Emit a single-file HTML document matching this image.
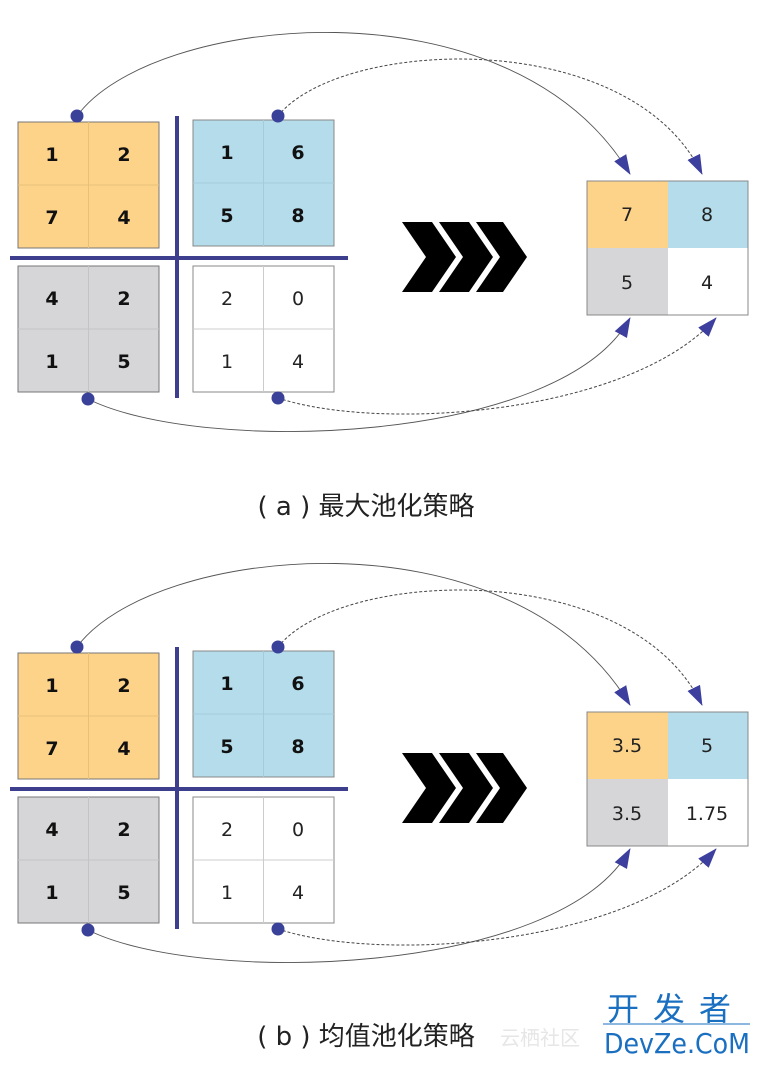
<!DOCTYPE html>
<html><head><meta charset="utf-8"><style>
body{margin:0;background:#fff;}
svg text{font-family:"DejaVu Sans","Liberation Sans","Noto Sans CJK SC",sans-serif;}
</style></head><body>
<svg width="759" height="1061" viewBox="0 0 759 1061" xmlns="http://www.w3.org/2000/svg">
<defs>
<marker id="ah" viewBox="0 0 20 14" refX="19" refY="7" markerWidth="20" markerHeight="14" markerUnits="userSpaceOnUse" orient="auto">
<path d="M0,0 L20,7 L0,14 Z" fill="#3d3f9e"/>
</marker>
<g id="panel">
  <path d="M77,116 C150,15 510,-25 630,174" fill="none" stroke="#555" stroke-width="0.9" marker-end="url(#ah)"/>
  <path d="M278,116 C340,38 630,25 702,174" fill="none" stroke="#444" stroke-width="1" stroke-dasharray="3,2" marker-end="url(#ah)"/>
  <path d="M88,399 C200,455 560,445 630,318" fill="none" stroke="#555" stroke-width="0.9" marker-end="url(#ah)"/>
  <path d="M278,398 C380,432 630,415 716,318" fill="none" stroke="#444" stroke-width="1" stroke-dasharray="3,2" marker-end="url(#ah)"/>
  <rect x="18" y="122" width="141" height="126" fill="#fdd389" stroke="#777" stroke-width="1"/>
  <line x1="88.5" y1="122" x2="88.5" y2="248" stroke="#e8c07a"/><line x1="18" y1="185" x2="159" y2="185" stroke="#e8c07a"/>
  <rect x="193" y="120" width="141" height="126" fill="#b4dcea" stroke="#888" stroke-width="1"/>
  <line x1="263.5" y1="120" x2="263.5" y2="246" stroke="#a4cbd9"/><line x1="193" y1="183" x2="334" y2="183" stroke="#a4cbd9"/>
  <rect x="18" y="266" width="141" height="126" fill="#d6d6d8" stroke="#777" stroke-width="1"/>
  <line x1="88.5" y1="266" x2="88.5" y2="392" stroke="#c4c4c6"/><line x1="18" y1="329" x2="159" y2="329" stroke="#c4c4c6"/>
  <rect x="193" y="266" width="141" height="126" fill="#fff" stroke="#888" stroke-width="1"/>
  <line x1="263.5" y1="266" x2="263.5" y2="392" stroke="#ccc"/><line x1="193" y1="329" x2="334" y2="329" stroke="#ccc"/>
  <line x1="10" y1="258" x2="348" y2="258" stroke="#3d3f8e" stroke-width="4"/>
  <line x1="177" y1="116" x2="177" y2="398" stroke="#3d3f8e" stroke-width="4"/>
  <g font-weight="bold" font-size="19" fill="#111" text-anchor="middle">
    <text x="52" y="161">1</text><text x="124" y="161">2</text>
    <text x="52" y="224">7</text><text x="124" y="224">4</text>
    <text x="227" y="159">1</text><text x="298" y="159">6</text>
    <text x="227" y="222">5</text><text x="298" y="222">8</text>
    <text x="52" y="305">4</text><text x="124" y="305">2</text>
    <text x="52" y="368">1</text><text x="124" y="368">5</text>
  </g>
  <g font-size="19" fill="#222" text-anchor="middle">
    <text x="227" y="305">2</text><text x="298" y="305">0</text>
    <text x="227" y="368">1</text><text x="298" y="368">4</text>
  </g>
  <g fill="#3a4199">
    <circle cx="77" cy="116" r="6.5"/><circle cx="278" cy="116" r="6.5"/>
    <circle cx="88" cy="399" r="6.5"/><circle cx="278" cy="398" r="6.5"/>
  </g>
  <g fill="#000">
    <path d="M402,222 L432,222 L456,257 L432,292 L402,292 L426,257 Z"/>
    <path d="M439,222 L469,222 L493,257 L469,292 L439,292 L463,257 Z"/>
    <path d="M476,222 L503,222 L527,257 L503,292 L476,292 L500,257 Z"/>
  </g>
</g>
</defs>
<use href="#panel"/>
<use href="#panel" y="531"/>
<rect x="587" y="181" width="81" height="67" fill="#fdd389"/>
<rect x="668" y="181" width="80" height="67" fill="#b4dcea"/>
<rect x="587" y="248" width="81" height="67" fill="#d6d6d8"/>
<rect x="587" y="181" width="161" height="134" fill="none" stroke="#888"/>
<g font-size="19" fill="#222" text-anchor="middle">
<text x="627" y="221">7</text><text x="707" y="221">8</text>
<text x="627" y="289">5</text><text x="707" y="289">4</text>
</g>
<rect x="587" y="712" width="81" height="67" fill="#fdd389"/>
<rect x="668" y="712" width="80" height="67" fill="#b4dcea"/>
<rect x="587" y="779" width="81" height="67" fill="#d6d6d8"/>
<rect x="587" y="712" width="161" height="134" fill="none" stroke="#888"/>
<g font-size="19" fill="#222" text-anchor="middle">
<text x="627" y="752">3.5</text><text x="707" y="752">5</text>
<text x="627" y="820">3.5</text><text x="707" y="820">1.75</text>
</g>
<text x="366" y="515" font-size="26" fill="#222" text-anchor="middle" font-family="Liberation Sans, Noto Sans CJK SC, sans-serif">(  a  ) 最大池化策略</text>
<text x="366" y="1045" font-size="26" fill="#222" text-anchor="middle" font-family="Liberation Sans, Noto Sans CJK SC, sans-serif">(  b  ) 均值池化策略</text>
<text x="500" y="1045" font-size="20" fill="#e6e6e6" font-family="Noto Sans CJK SC, sans-serif">云栖社区</text>
<text x="676" y="1020" font-size="32" fill="#1a6fc0" text-anchor="middle" letter-spacing="14" font-family="Noto Sans CJK SC, sans-serif">开发者</text>
<line x1="603" y1="1024" x2="750" y2="1024" stroke="#1a6fc0" stroke-width="1"/>
<text x="604" y="1053" font-size="28" fill="#1a6fc0" textLength="146" lengthAdjust="spacingAndGlyphs" font-family="Liberation Sans, sans-serif">DevZe.CoM</text>
</svg>
</body></html>
